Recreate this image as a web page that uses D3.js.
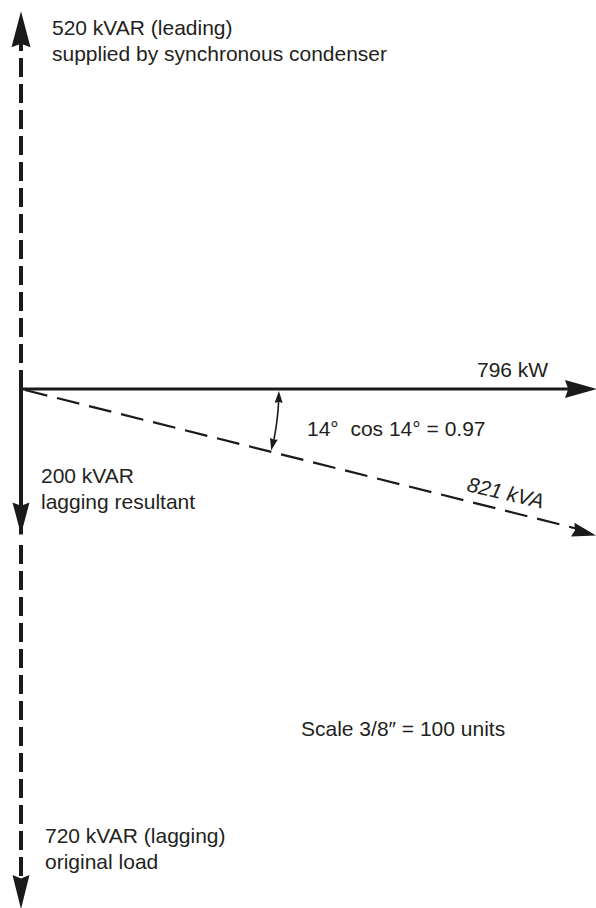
<!DOCTYPE html>
<html>
<head>
<meta charset="utf-8">
<script src="https://cdn.jsdelivr.net/npm/d3@7"></script>
<style>
  html, body { margin: 0; padding: 0; background: #fff; }
  svg { display: block; }
  text { font-family: "Liberation Sans", Arial, Helvetica, sans-serif; fill: #231f20; white-space: pre; }
</style>
</head>
<body>
<script>
// ---- data ----
const realPowerKW = 796;                       // horizontal (kW)
const apparentKVA = 821;                       // resultant (kVA)
const phaseAngleDeg = 14;                      // angle between kW and kVA
const powerFactor = 0.97;
const reactiveNames = ["leading", "resultant", "lagging"];
const reactiveKVAR = [520, -200, -720];        // + = up (leading), - = down (lagging)
const labelLines = [
  ["520 kVAR (leading)", "supplied by synchronous condenser"],
  ["200 kVAR", "lagging resultant"],
  ["720 kVAR (lagging)", "original load"]
];
const kwLabel = "796 kW";
const kvaLabel = "821 kVA";
const angleLabel = "14°  cos 14° = 0.97";
const scaleLabel = "Scale 3/8″ = 100 units";

// ---- layout ----
const W = 596, H = 908;
const ox = 21, oy = 389;
const k = 575 / 796;   // px per unit

const x = d3.scaleLinear().domain([0, 800]).range([ox, ox + 800 * k]);
const y = d3.scaleLinear().domain([-720, 520]).range([oy + 720 * k, oy - 520 * k]);

const svg = d3.select("body").append("svg").attr("width", W).attr("height", H);
const ink = "#1a1a1a";

function head(tx, ty, ang, len, hw) {
  const c = Math.cos(ang), s = Math.sin(ang);
  const bx = tx - len * c, by = ty - len * s;
  const px = -s, py = c;
  const lx = bx + hw * px, ly = by + hw * py;
  const rx = bx - hw * px, ry = by - hw * py;
  const mx = tx - len * 0.5 * c, my = ty - len * 0.5 * s;
  const q = hw * 0.5;
  return `M${tx},${ty} Q${mx + q * px},${my + q * py} ${lx},${ly} L${bx + 0.1 * len * c},${by + 0.1 * len * s} L${rx},${ry} Q${mx - q * px},${my - q * py} ${tx},${ty} Z`;
}

const line = d3.line();

// reactive up (leading) - dashed
const upTip = y(reactiveKVAR[0]);
svg.append("path")
  .attr("d", line([[x(0), y(0)], [x(0), upTip + 30]]))
  .attr("stroke", ink).attr("stroke-width", 4).attr("fill", "none")
  .attr("stroke-dasharray", "19,7");
svg.append("path").attr("d", head(x(0), upTip - 2, -Math.PI / 2, 36, 9.5)).attr("fill", ink);

// reactive down (lagging original) - dashed
const downTip = y(reactiveKVAR[2]);
svg.append("path")
  .attr("d", line([[x(0), y(0)], [x(0), downTip - 30]]))
  .attr("stroke", ink).attr("stroke-width", 4).attr("fill", "none")
  .attr("stroke-dasharray", "19,7");
svg.append("path").attr("d", head(x(0), downTip, Math.PI / 2, 34, 8.5)).attr("fill", ink);

// resultant reactive (solid)
const resTip = y(reactiveKVAR[1]);
svg.append("path")
  .attr("d", line([[x(0), y(0) - 1.5], [x(0), resTip - 25]]))
  .attr("stroke", ink).attr("stroke-width", 4).attr("fill", "none");
svg.append("path").attr("d", head(x(0), resTip + 1, Math.PI / 2, 32, 8.5)).attr("fill", ink);
svg.append("rect").attr("x", x(0) - 3).attr("y", resTip + 1).attr("width", 6).attr("height", 6).attr("fill", "#fff");

// kW horizontal (solid)
svg.append("path")
  .attr("d", line([[x(0) - 2, y(0)], [x(realPowerKW) - 25, y(0)]]))
  .attr("stroke", ink).attr("stroke-width", 3.2).attr("fill", "none");
svg.append("path").attr("d", head(x(realPowerKW) + 1, y(0), 0, 32, 9)).attr("fill", ink);

// kVA resultant (dashed)
const kvaEnd = [x(realPowerKW), y(reactiveKVAR[1])];
const kvaAng = Math.atan2(kvaEnd[1] - y(0), kvaEnd[0] - x(0));
svg.append("path")
  .attr("d", line([[x(0) + 4, y(0) + 1], [kvaEnd[0] - 18 * Math.cos(kvaAng), kvaEnd[1] - 18 * Math.sin(kvaAng)]]))
  .attr("stroke", ink).attr("stroke-width", 2.2).attr("fill", "none")
  .attr("stroke-dasharray", "23,10");
svg.append("path").attr("d", head(kvaEnd[0], kvaEnd[1] + 2, kvaAng, 24, 7)).attr("fill", ink);

// angle arc (double-headed)
const rUnits = 357;
const arcPts = d3.range(0, 41).map(i => {
  const a = (phaseAngleDeg * Math.PI / 180) * (i / 40);
  return [x(rUnits * Math.cos(a)), y(-rUnits * Math.sin(a))];
});
svg.append("path")
  .attr("d", line(arcPts.slice(4, 37)))
  .attr("stroke", ink).attr("stroke-width", 1.6).attr("fill", "none");
const a0 = arcPts[0], a1 = arcPts[40];
const angStart = Math.atan2(arcPts[0][1] - arcPts[6][1], arcPts[0][0] - arcPts[6][0]);
const angEnd = Math.atan2(arcPts[40][1] - arcPts[34][1], arcPts[40][0] - arcPts[34][0]);
svg.append("path").attr("d", head(a0[0], a0[1] + 2, angStart, 12, 4)).attr("fill", ink);
svg.append("path").attr("d", head(a1[0], a1[1] - 1, angEnd, 12, 4)).attr("fill", ink);

// ---- text ----
const fs = 21;
function lines2(tx, ty, arr) {
  const t = svg.append("text").attr("x", tx).attr("y", ty).attr("font-size", fs);
  arr.forEach((s, i) => t.append("tspan").attr("x", tx).attr("dy", i === 0 ? 0 : 25.5).text(s));
}
lines2(52, 35, labelLines[0]);
lines2(41, 483, labelLines[1]);
lines2(45, 843, labelLines[2]);

svg.append("text").attr("x", 477).attr("y", 377).attr("font-size", fs).text(kwLabel);
svg.append("text").attr("x", 307).attr("y", 436).attr("font-size", fs).text(angleLabel);
svg.append("text").attr("x", 301).attr("y", 736).attr("font-size", fs).text(scaleLabel);
svg.append("text")
  .attr("transform", `translate(466,491) rotate(${phaseAngleDeg - 1})`)
  .attr("font-size", fs).attr("font-style", "italic").text(kvaLabel);
</script>
</body>
</html>
